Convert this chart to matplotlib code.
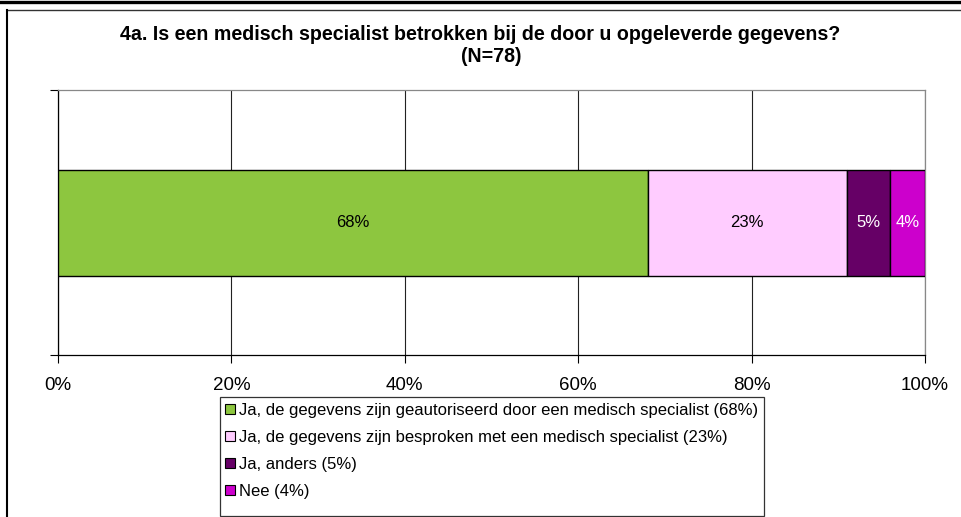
import matplotlib
matplotlib.use("Agg")
import matplotlib.pyplot as plt
from matplotlib.lines import Line2D
from matplotlib.patches import Patch, Rectangle

plt.rcParams["font.family"] = ["Liberation Sans", "DejaVu Sans"]

# data
title_lines = ["4a. Is een medisch specialist betrokken bij de door u opgeleverde gegevens?",
               "(N=78)"]
categories = [
    "Ja, de gegevens zijn geautoriseerd door een medisch specialist (68%)",
    "Ja, de gegevens zijn besproken met een medisch specialist (23%)",
    "Ja, anders (5%)",
    "Nee (4%)",
]
values = [68, 23, 5, 4]
bar_labels = ["68%", "23%", "5%", "4%"]
colors = ["#8DC63F", "#FFCCFF", "#660066", "#CC00CC"]
label_colors = ["black", "black", "white", "white"]
xticks = [0, 20, 40, 60, 80, 100]
xtick_labels = ["0%", "20%", "40%", "60%", "80%", "100%"]

W, H = 962, 517
fig = plt.figure(figsize=(W / 100, H / 100), dpi=100)

def fx(px):
    return px / W

def fy(py):
    return 1 - py / H

# outer frame lines
fig.add_artist(Line2D([0, 1], [fy(1.5), fy(1.5)], color="black", lw=2.4))
fig.add_artist(Line2D([fx(7), 1], [fy(9.5), fy(9.5)], color="#333333", lw=1.0))
fig.add_artist(Line2D([fx(7), fx(7)], [fy(9.5), 0], color="black", lw=1.5))

# plot area
left, right, top, bottom = 58, 925, 90, 355
ax = fig.add_axes([fx(left), fy(bottom), fx(right - left), (bottom - top) / H])

start = 0
for val, lab, col, tcol in zip(values, bar_labels, colors, label_colors):
    ax.barh(0, val, left=start, height=0.4, color=col, edgecolor="black", linewidth=1.0, zorder=3)
    ax.text(start + val / 2, 0, lab, ha="center", va="center", fontsize=12, color=tcol, zorder=4)
    start += val

ax.set_xlim(0, 100)
ax.set_ylim(-0.5, 0.5)
ax.set_xticks(xticks)
ax.set_xticklabels(xtick_labels, fontsize=13.5)
ax.set_yticks([-0.5, 0.5])
ax.set_yticklabels([])
ax.tick_params(axis="both", direction="out", length=6, width=0.8, color="black")
ax.tick_params(axis="x", pad=10)
ax.grid(axis="x", color="#222222", lw=0.8, zorder=0)
ax.spines["left"].set_color("black")
ax.spines["bottom"].set_color("black")
ax.spines["top"].set_color("#888888")
ax.spines["right"].set_color("#888888")
for s in ax.spines.values():
    s.set_linewidth(0.9)

fig.text(fx(480), fy(35), title_lines[0], ha="center", va="center", fontsize=14.1,
         fontweight="bold")
fig.text(fx(491), fy(57), title_lines[1], ha="center", va="center", fontsize=14.1,
         fontweight="bold")

# legend box drawn separately (extra space at the bottom as in the original)
fig.add_artist(Rectangle((fx(220), fy(516)), fx(764 - 220), (516 - 397) / H,
                         transform=fig.transFigure, facecolor="white",
                         edgecolor="#333333", lw=0.9))
handles = [Patch(facecolor=c, edgecolor="black", lw=0.8) for c in colors]
leg = fig.legend(handles, categories, loc="upper left",
                 bbox_to_anchor=(fx(225), fy(403)),
                 fontsize=12, frameon=False,
                 handlelength=0.6, handleheight=0.6, handletextpad=0.25,
                 labelspacing=0.72, borderpad=0.0, borderaxespad=0)

fig.savefig("out.png", dpi=100)
